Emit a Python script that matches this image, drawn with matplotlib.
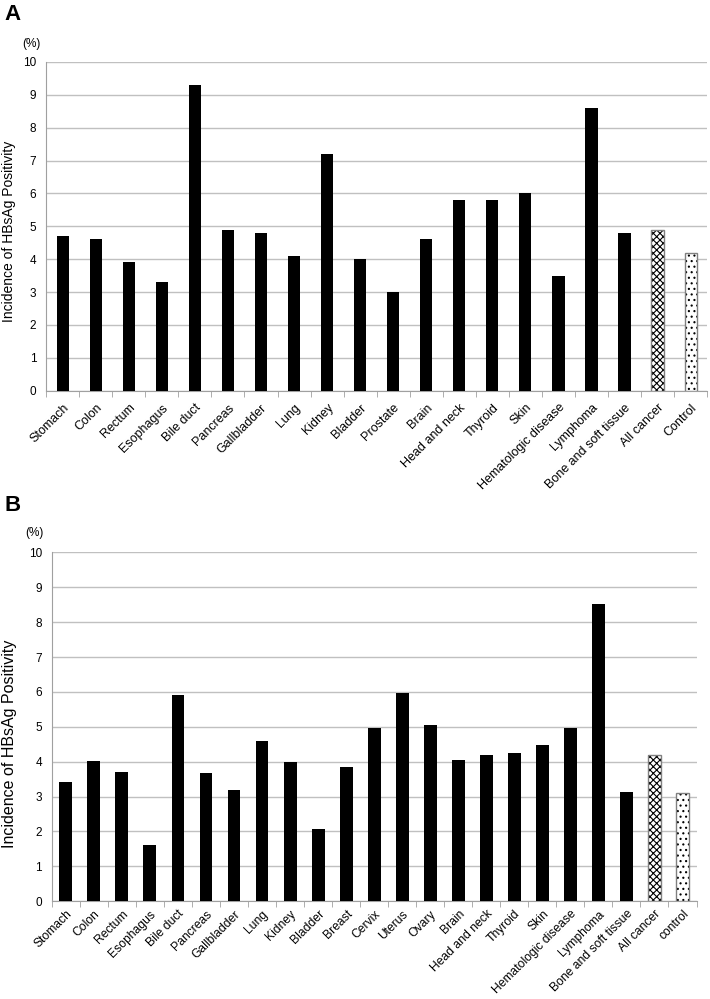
import matplotlib
matplotlib.use("Agg")
import matplotlib.pyplot as plt
import numpy as np

plt.rcParams['font.family'] = ['Liberation Sans', 'DejaVu Sans']
plt.rcParams['hatch.linewidth'] = 0.8

# panel A
cats_a = ['Stomach', 'Colon', 'Rectum', 'Esophagus', 'Bile duct', 'Pancreas',
          'Gallbladder', 'Lung', 'Kidney', 'Bladder', 'Prostate', 'Brain',
          'Head and neck', 'Thyroid', 'Skin', 'Hematologic disease', 'Lymphoma',
          'Bone and soft tissue', 'All cancer', 'Control']
vals_a = [4.7, 4.6, 3.9, 3.3, 9.3, 4.9, 4.8, 4.1, 7.2, 4.0, 3.0, 4.6,
          5.8, 5.8, 6.0, 3.5, 8.6, 4.8, 4.9, 4.2]

# panel B
cats_b = ['Stomach', 'Colon', 'Rectum', 'Esophagus', 'Bile duct', 'Pancreas',
          'Gallbladder', 'Lung', 'Kidney', 'Bladder', 'Breast', 'Cervix',
          'Uterus', 'Ovary', 'Brain', 'Head and neck', 'Thyroid', 'Skin',
          'Hematologic disease', 'Lymphoma', 'Bone and soft tissue',
          'All cancer', 'control']
vals_b = [3.42, 4.03, 3.69, 1.6, 5.92, 3.67, 3.18, 4.6, 4.0, 2.08, 3.85, 4.97,
          5.98, 5.05, 4.06, 4.2, 4.25, 4.48, 4.96, 8.52, 3.12, 4.2, 3.1]

fig = plt.figure(figsize=(7.1, 9.99), dpi=100)
ax_a = fig.add_axes([0.065, 0.609, 0.931, 0.329])
ax_b = fig.add_axes([0.073, 0.098, 0.908, 0.349])


def draw(ax, cats, vals, width, ylab_x, ylab_y, ylab_size, pct_x, xlab_size, xpad):
    n = len(cats)
    x = np.arange(n)
    ax.bar(x[:-2], vals[:-2], width=width, color='black', zorder=3)
    ax.bar(x[-2], vals[-2], width=width, color='white', edgecolor='black',
           hatch='xxxxx', linewidth=0, zorder=3)
    ax.bar(x[-2], vals[-2], width=width, color='none', edgecolor='#808080',
           linewidth=1, zorder=4)
    ax.bar(x[-1], vals[-1], width=width, color='white', edgecolor='black',
           hatch='...', linewidth=0, zorder=3)
    ax.bar(x[-1], vals[-1], width=width, color='none', edgecolor='#808080',
           linewidth=1, zorder=4)
    ax.set_xlim(-0.5, n - 0.5)
    ax.set_ylim(0, 10)
    ax.set_yticks(range(0, 11))
    ax.yaxis.grid(True, color='#c0c0c0', linewidth=1, zorder=0)
    ax.tick_params(axis='y', length=0, labelsize=8.5, pad=7)
    ax.set_xticks(x)
    ax.set_xticklabels(cats, rotation=45, ha='right', rotation_mode='anchor',
                       fontsize=xlab_size)
    ax.tick_params(axis='x', which='major', length=0, pad=xpad)
    ax.set_xticks(np.arange(-0.5, n, 1.0), minor=True)
    ax.tick_params(axis='x', which='minor', length=4, color='#a0a0a0',
                   direction='out')
    for s in ['top', 'right']:
        ax.spines[s].set_visible(False)
    for s in ['left', 'bottom']:
        ax.spines[s].set_color('#a0a0a0')
    ax.set_ylabel('Incidence of HBsAg Positivity', fontsize=ylab_size)
    ax.yaxis.set_label_coords(ylab_x, ylab_y)
    ax.text(pct_x, 1.055, '(%)', transform=ax.transAxes, fontsize=8.5,
            ha='center', va='center')


draw(ax_a, cats_a, vals_a, 0.37, -0.045, 0.483, 10, -0.023, 9, 8)
draw(ax_b, cats_b, vals_b, 0.46, -0.054, 0.452, 11.5, -0.027, 8.7, 5)

fig.text(0.006, 0.985, 'A', fontsize=16, fontweight='bold', va='center')
fig.text(0.006, 0.494, 'B', fontsize=16, fontweight='bold', va='center')

fig.savefig('out.png', dpi=100)
